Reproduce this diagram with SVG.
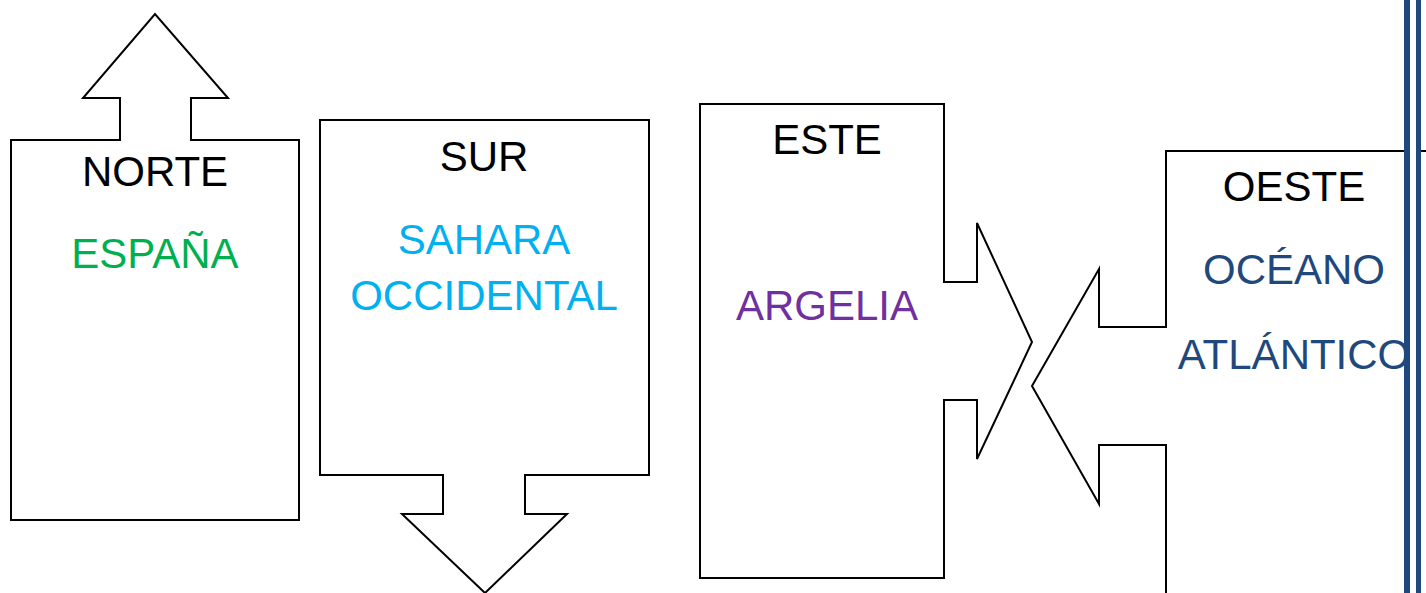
<svg xmlns="http://www.w3.org/2000/svg" width="1426" height="593" viewBox="0 0 1426 593">
<style>
.shape{fill:#fff;stroke:#000;stroke-width:2;stroke-linejoin:miter}
text{font-family:"Liberation Sans",Arial,sans-serif;font-size:42px;text-anchor:middle}
.h{fill:#000}
</style>
<rect width="1426" height="593" fill="#fff"/>
<g id="norte">
<path class="shape" d="M11,140 H120 V98 H83 L155,14 L228,98 H191 V140 H299 V520 H11 Z"/>
<text class="h" x="155" y="186">NORTE</text>
<text x="155" y="268" fill="#00B050">ESPAÑA</text>
</g>
<g id="sur">
<path class="shape" d="M320,120 H649 V475 H525 V514 H567 L485,593 L402,514 H443 V475 H320 Z"/>
<text class="h" x="484" y="171">SUR</text>
<text x="484" y="254" fill="#00B0F0">SAHARA</text>
<text x="484" y="310" fill="#00B0F0">OCCIDENTAL</text>
</g>
<g id="este">
<path class="shape" d="M700,104 H944 V282 H977 V223 L1032,342 L977,459 V400 H944 V578 H700 Z"/>
<text class="h" x="827" y="154">ESTE</text>
<text x="827" y="320" fill="#7030A0">ARGELIA</text>
</g>
<g id="oeste">
<path class="shape" d="M1440,151 H1166 V327 H1099 V269 L1032,386 L1099,504 V445 H1166 V600 H1440"/>
<text class="h" x="1294" y="201">OESTE</text>
<text x="1294" y="284" fill="#1F497D">OCÉANO</text>
<text x="1294" y="369" fill="#1F497D">ATLÁNTICO</text>
</g>
<g id="connectors"/>
<g id="border">
<rect x="1404" y="0" width="6" height="593" fill="#1F497D"/>
<rect x="1410" y="0" width="6" height="593" fill="#fff"/>
<rect x="1416" y="0" width="5" height="593" fill="#1F497D"/>
<rect x="1421" y="152" width="5" height="441" fill="#fff"/>
</g>
</svg>
